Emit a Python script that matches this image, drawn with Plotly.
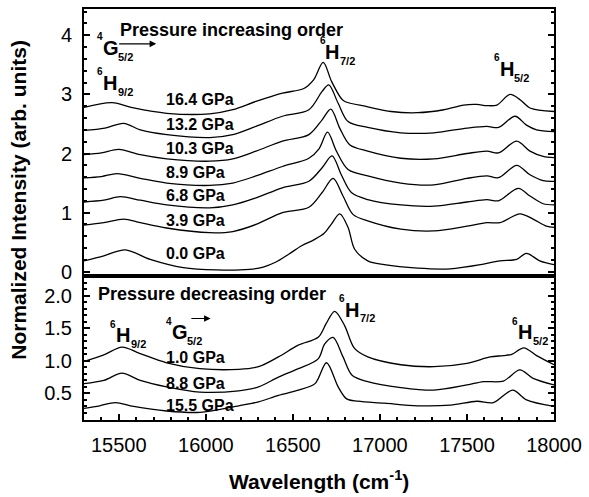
import plotly.graph_objects as go

# ---------------- data ----------------
# top panel: pressure increasing order
wn_0_0 = [15300, 15414, 15537, 15680, 15870, 16060, 16250, 16330, 16400, 16478, 16550, 16620, 16680, 16720, 16769, 16817, 16855, 16930, 17025, 17216, 17405, 17595, 17690, 17786, 17842, 17918, 18000]
in_0_0 = [0.185, 0.27, 0.37, 0.21, 0.07, 0.03, 0.04, 0.08, 0.16, 0.30, 0.44, 0.54, 0.65, 0.80, 0.98, 0.75, 0.38, 0.185, 0.12, 0.06, 0.05, 0.13, 0.185, 0.21, 0.31, 0.185, 0.12]

wn_3_9 = [15300, 15414, 15528, 15623, 15775, 16022, 16155, 16288, 16440, 16592, 16668, 16731, 16788, 16845, 16930, 17120, 17310, 17500, 17614, 17690, 17804, 17880, 17956, 18000]
in_3_9 = [0.79, 0.83, 0.89, 0.83, 0.74, 0.66, 0.68, 0.80, 1.00, 1.09, 1.34, 1.58, 1.28, 0.97, 0.86, 0.72, 0.69, 0.77, 0.83, 0.83, 0.98, 0.89, 0.77, 0.75]

wn_6_8 = [15300, 15414, 15509, 15623, 15775, 16022, 16155, 16288, 16440, 16592, 16668, 16725, 16778, 16836, 16930, 17120, 17310, 17500, 17614, 17681, 17795, 17862, 17938, 18000]
in_6_8 = [1.18, 1.21, 1.27, 1.21, 1.13, 1.08, 1.13, 1.25, 1.42, 1.53, 1.76, 1.96, 1.64, 1.34, 1.22, 1.13, 1.11, 1.18, 1.22, 1.20, 1.41, 1.28, 1.15, 1.13]

wn_8_9 = [15300, 15400, 15490, 15623, 15775, 16022, 16155, 16288, 16440, 16592, 16650, 16699, 16750, 16817, 16930, 17120, 17310, 17500, 17614, 17681, 17786, 17862, 17938, 18000]
in_8_9 = [1.59, 1.61, 1.66, 1.58, 1.50, 1.46, 1.50, 1.62, 1.78, 1.92, 2.08, 2.36, 2.04, 1.73, 1.62, 1.50, 1.47, 1.58, 1.62, 1.59, 1.80, 1.64, 1.54, 1.53]

wn_10_3 = [15300, 15400, 15500, 15623, 15775, 16022, 16155, 16288, 16440, 16592, 16668, 16718, 16769, 16826, 16930, 17120, 17310, 17500, 17614, 17681, 17786, 17862, 17938, 18000]
in_10_3 = [1.98, 2.01, 2.07, 1.98, 1.91, 1.87, 1.91, 2.04, 2.21, 2.32, 2.57, 2.75, 2.43, 2.15, 2.04, 1.92, 1.91, 2.00, 2.04, 2.01, 2.21, 2.04, 1.95, 1.93]

wn_13_2 = [15300, 15420, 15528, 15623, 15775, 16022, 16155, 16288, 16440, 16592, 16668, 16706, 16760, 16817, 16930, 17120, 17310, 17500, 17614, 17681, 17776, 17842, 17900, 18000]
in_13_2 = [2.39, 2.43, 2.51, 2.40, 2.32, 2.27, 2.32, 2.46, 2.63, 2.74, 3.05, 3.16, 2.85, 2.54, 2.44, 2.35, 2.35, 2.43, 2.46, 2.44, 2.63, 2.48, 2.40, 2.37]

wn_16_4 = [15300, 15461, 15585, 15775, 16022, 16155, 16288, 16440, 16563, 16620, 16674, 16722, 16778, 16798, 16930, 17064, 17216, 17367, 17481, 17557, 17614, 17672, 17748, 17805, 17862, 18000]
in_16_4 = [2.78, 2.86, 2.77, 2.68, 2.67, 2.74, 2.88, 3.02, 3.10, 3.25, 3.54, 3.22, 2.93, 2.88, 2.79, 2.71, 2.69, 2.74, 2.82, 2.83, 2.81, 2.82, 3.00, 2.91, 2.77, 2.71]

top_labels = ["0.0 GPa", "3.9 GPa", "6.8 GPa", "8.9 GPa", "10.3 GPa", "13.2 GPa", "16.4 GPa"]

# bottom panel: pressure decreasing order
wn_1_0 = [15300, 15414, 15518, 15623, 15775, 15965, 16189, 16303, 16417, 16531, 16645, 16691, 16740, 16797, 16854, 16930, 17120, 17310, 17500, 17633, 17709, 17757, 17827, 17900, 18000]
in_1_0 = [0.99, 1.09, 1.21, 1.11, 0.97, 0.88, 0.87, 0.91, 1.06, 1.24, 1.36, 1.57, 1.76, 1.54, 1.19, 1.06, 0.94, 0.91, 0.96, 1.06, 1.08, 1.10, 1.20, 1.08, 0.94]

wn_8_8 = [15300, 15414, 15518, 15623, 15775, 15965, 16189, 16303, 16417, 16531, 16645, 16683, 16731, 16788, 16840, 16930, 17120, 17310, 17500, 17595, 17709, 17804, 17880, 18000]
in_8_8 = [0.65, 0.70, 0.81, 0.70, 0.60, 0.52, 0.54, 0.60, 0.75, 0.88, 1.03, 1.26, 1.36, 1.06, 0.78, 0.68, 0.59, 0.55, 0.63, 0.68, 0.69, 0.86, 0.73, 0.63]

wn_15_5 = [15300, 15390, 15480, 15585, 15775, 15965, 16189, 16303, 16417, 16531, 16627, 16693, 16760, 16807, 16873, 17025, 17216, 17405, 17557, 17652, 17763, 17842, 18000]
in_15_5 = [0.27, 0.31, 0.36, 0.30, 0.23, 0.21, 0.31, 0.37, 0.47, 0.55, 0.65, 0.97, 0.60, 0.42, 0.38, 0.35, 0.31, 0.32, 0.38, 0.36, 0.55, 0.40, 0.30]

bottom_labels = ["1.0 GPa", "8.8 GPa", "15.5 GPa"]

x_tickvals = [15500, 16000, 16500, 17000, 17500, 18000]
x_ticktext = ["15500", "16000", "16500", "17000", "17500", "18000"]
top_tickvals = [0, 1, 2, 3, 4]
bottom_tickvals = [0.5, 1.0, 1.5, 2.0]
bottom_ticktext = ["0.5", "1.0", "1.5", "2.0"]

# ---------------- figure ----------------
FONT = "Liberation Sans, Arial, sans-serif"
W, H = 589, 497
L, R, T, B = 84, 30, 7, 77
PW, PH = W - L - R, H - T - B
split = 145 / PH
SEP = H - B - 145  # pixel row of the panel separator


def P(xp, yp):
    return (xp - L) / PW, (H - B - yp) / PH


fig = go.Figure()
line = dict(color="black", width=1.3)
for xs, ys in [(wn_0_0, in_0_0), (wn_3_9, in_3_9), (wn_6_8, in_6_8), (wn_8_9, in_8_9),
               (wn_10_3, in_10_3), (wn_13_2, in_13_2), (wn_16_4, in_16_4)]:
    fig.add_trace(go.Scatter(x=xs, y=ys, mode="lines", line=dict(shape="spline", smoothing=0.9, **line),
                             xaxis="x", yaxis="y", showlegend=False, hoverinfo="skip"))
for xs, ys in [(wn_1_0, in_1_0), (wn_8_8, in_8_8), (wn_15_5, in_15_5)]:
    fig.add_trace(go.Scatter(x=xs, y=ys, mode="lines", line=dict(shape="spline", smoothing=0.9, **line),
                             xaxis="x2", yaxis="y2", showlegend=False, hoverinfo="skip"))

ann = []


def txt(xp, yp, s, size, bold=True, xanchor="center", yanchor="middle"):
    x, y = P(xp, yp)
    ann.append(dict(x=x, y=y, xref="paper", yref="paper", text=("<b>%s</b>" % s) if bold else s,
                    showarrow=False, xanchor=xanchor, yanchor=yanchor,
                    font=dict(family=FONT, size=size, color="black")))


def term(xp, yc, sup, letter, sub):
    # xp: left edge of superscript, yc: center of big letter
    txt(xp, yc - 11, sup, 10, xanchor="left")
    txt(xp + 6, yc, letter, 20, xanchor="left")
    txt(xp + 21, yc + 9, sub, 11, xanchor="left")


def arrow(x0, x1, yp, top=True):
    if top:
        xr, yr = "x domain", "y domain"
        yd = (SEP - yp) / (SEP - T)
    else:
        xr, yr = "x2 domain", "y2 domain"
        yd = (H - B - yp) / 145
    ann.append(dict(x=(x1 - L) / PW, y=yd, xref=xr, yref=yr,
                    ax=(x0 - L) / PW, ay=yd, axref=xr, ayref=yr,
                    text="", showarrow=True, arrowhead=2, arrowsize=1.1, arrowwidth=1.2,
                    arrowcolor="black", standoff=0, startstandoff=0))


# top panel texts
txt(118, 28, "Pressure increasing order", 18, xanchor="left")
term(95, 46, "4", "G", "5/2")
arrow(118, 157, 42, top=True)
term(95, 81, "6", "H", "9/2")
term(320, 50, "6", "H", "7/2")
term(496, 67, "6", "H", "5/2")
for lab, yp in zip(top_labels, [252.7, 220, 194, 171.7, 146.7, 122.7, 98]):
    txt(165, yp, lab, 16, xanchor="left")

# bottom panel texts
txt(96, 293, "Pressure decreasing order", 18, xanchor="left")
term(108, 335, "6", "H", "9/2")
term(165, 332, "4", "G", "5/2")
arrow(191, 212, 318, top=False)
term(340, 309, "6", "H", "7/2")
term(515, 332, "6", "H", "5/2")
for lab, yp in zip(bottom_labels, [356.7, 383.3, 405]):
    txt(165, yp, lab, 16, xanchor="left")

# axis titles
txt(17, 199, "Normalized Intensity (arb. units)", 21)
ann[-1]["textangle"] = -90
txt(321, 480, "Wavelength (cm<sup>-1</sup>)", 21)

tickfont = dict(family=FONT, size=20, color="black")
common_y = dict(showline=True, linecolor="black", linewidth=2, mirror="ticks", ticks="inside",
                ticklen=6, tickwidth=1.5, tickcolor="black", showgrid=False, zeroline=False,
                tickfont=tickfont, ticklabelstandoff=6)

fig.update_layout(
    width=W, height=H, margin=dict(l=L, r=R, t=T, b=B),
    plot_bgcolor="white", paper_bgcolor="white",
    xaxis=dict(domain=[0, 1], anchor="y", range=[15300, 18000], matches="x2", showticklabels=False,
               showline=True, linecolor="black", linewidth=2, mirror=True, ticks="", showgrid=False,
               zeroline=False),
    yaxis=dict(domain=[split, 1], anchor="x", range=[-0.067, 4.444], tickvals=top_tickvals,
               minor=dict(ticks="inside", dtick=0.2, tick0=0, ticklen=3, tickcolor="black", showgrid=False),
               **common_y),
    xaxis2=dict(domain=[0, 1], anchor="y2", range=[15300, 18000], tickvals=x_tickvals, ticktext=x_ticktext,
                showline=True, linecolor="black", linewidth=2, mirror=True, ticks="inside",
                ticklen=6, tickwidth=1.5, tickcolor="black", showgrid=False, zeroline=False,
                tickfont=tickfont, ticklabelstandoff=6,
                minor=dict(ticks="inside", dtick=100, tick0=15300, ticklen=3, tickcolor="black", showgrid=False)),
    yaxis2=dict(domain=[0, split], anchor="x2", range=[0.092, 2.306], tickvals=bottom_tickvals,
                ticktext=bottom_ticktext,
                minor=dict(ticks="inside", dtick=0.1, tick0=0, ticklen=3, tickcolor="black", showgrid=False),
                **common_y),
    annotations=ann,
)

fig.write_html("out.html")
